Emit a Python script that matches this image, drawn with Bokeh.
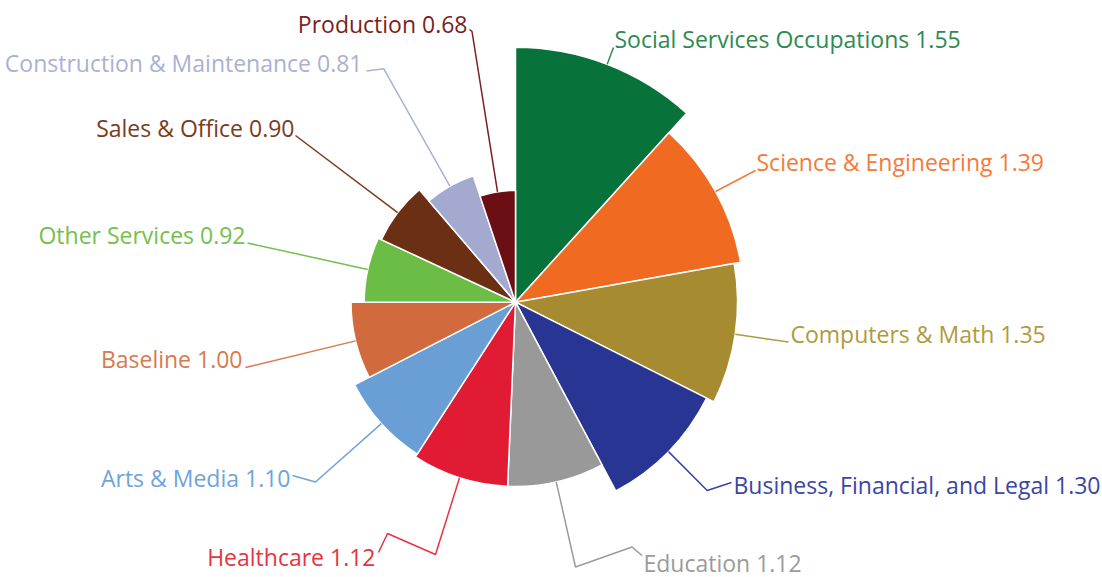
import math
from bokeh.plotting import figure
from bokeh.models import Range1d
from bokeh.core.properties import value
from bokeh.embed import file_html
from bokeh.resources import INLINE

# ---- data ----
categories = ["Social Services Occupations", "Science & Engineering", "Computers & Math",
              "Business, Financial, and Legal", "Education", "Healthcare", "Arts & Media",
              "Baseline", "Other Services", "Sales & Office", "Construction & Maintenance",
              "Production"]
values = [1.55, 1.39, 1.35, 1.30, 1.12, 1.12, 1.10, 1.00, 0.92, 0.90, 0.81, 0.68]

# ---- styles ----
wedge_colors = ["#07733a", "#f06a22", "#a68b31", "#283593", "#999999", "#e21b35",
                "#6a9fd6", "#d16b3e", "#6cbd45", "#6b3013", "#a4a9d0", "#6b0f14"]
text_colors = ["#2e8a52", "#f47a3a", "#b09a3e", "#3b45a3", "#9b9b9b", "#e8333f",
               "#6fa3dc", "#d8794e", "#74c04c", "#7a3b1e", "#aab0d6", "#7a1f22"]

# layout (page-pixel coordinates): leader bends, label anchor x, baseline y, alignment
bends = [
    [(613, 47)],
    [(755, 170)],
    [(788, 341.5)],
    [(706.7, 490), (731, 482)],
    [(575, 566.5), (631.5, 546.5), (641.5, 555)],
    [(435, 554), (387, 533), (378, 552)],
    [(315, 481.5), (292, 475)],
    [(245, 367)],
    [(247, 242.5)],
    [(295, 135)],
    [(383.3, 68.3), (366, 70.5)],
    [(471.5, 31), (469, 29)],
]
label_x = [614, 756, 790, 733, 643, 375, 290, 242, 245, 294, 362, 467]
label_base = [47, 170, 342, 493, 571, 565, 486.5, 367, 243, 136.5, 71.5, 32]
label_align = ["left", "left", "left", "left", "left", "right", "right", "right",
               "right", "right", "right", "right"]
TEXT_SHIFT = 9  # renderer places alphabetic baseline this much lower

W, H = 1102, 577
CX, CY_IMG = 515, 301.7
SCALE = 164.5  # pixels per unit of value


def fy(y_img):
    return H - y_img


p = figure(width=W, height=H, output_backend="svg", toolbar_location=None,
           x_range=Range1d(0, W), y_range=Range1d(0, H),
           x_axis_location=None, y_axis_location=None, min_border=0)
p.grid.visible = False
p.outline_line_color = None
p.background_fill_color = "white"
p.border_fill_color = "white"

total = sum(values)
cum = 0.0
starts, ends, radii, mids = [], [], [], []
for v in values:
    a0 = math.pi / 2 - cum / total * 2 * math.pi
    a1 = math.pi / 2 - (cum + v) / total * 2 * math.pi
    starts.append(a1)
    ends.append(a0)
    radii.append(v * SCALE)
    mids.append((a0 + a1) / 2)
    cum += v

cy = fy(CY_IMG)
p.wedge(x=[CX] * len(values), y=[cy] * len(values), radius=radii,
        start_angle=starts, end_angle=ends, direction="anticlock",
        fill_color=wedge_colors, line_color="white", line_width=1.5)

# leader lines
xs, ys = [], []
for i, v in enumerate(values):
    r = radii[i]
    sx = CX + r * math.cos(mids[i])
    sy = cy + r * math.sin(mids[i])
    lx = [sx] + [b[0] for b in bends[i]]
    ly = [sy] + [fy(b[1]) for b in bends[i]]
    xs.append(lx)
    ys.append(ly)
p.multi_line(xs=xs, ys=ys, line_color=text_colors, line_width=1.5)

labels = [f"{c} {v:.2f}" for c, v in zip(categories, values)]
for i in range(len(values)):
    p.text(x=[label_x[i]], y=[fy(label_base[i] - TEXT_SHIFT)], text=[labels[i]],
           text_font=value("Open Sans"), text_font_size="23px",
           text_color=text_colors[i], text_align=label_align[i],
           text_baseline="alphabetic")

open("out.html", "w").write(file_html(p, INLINE))
